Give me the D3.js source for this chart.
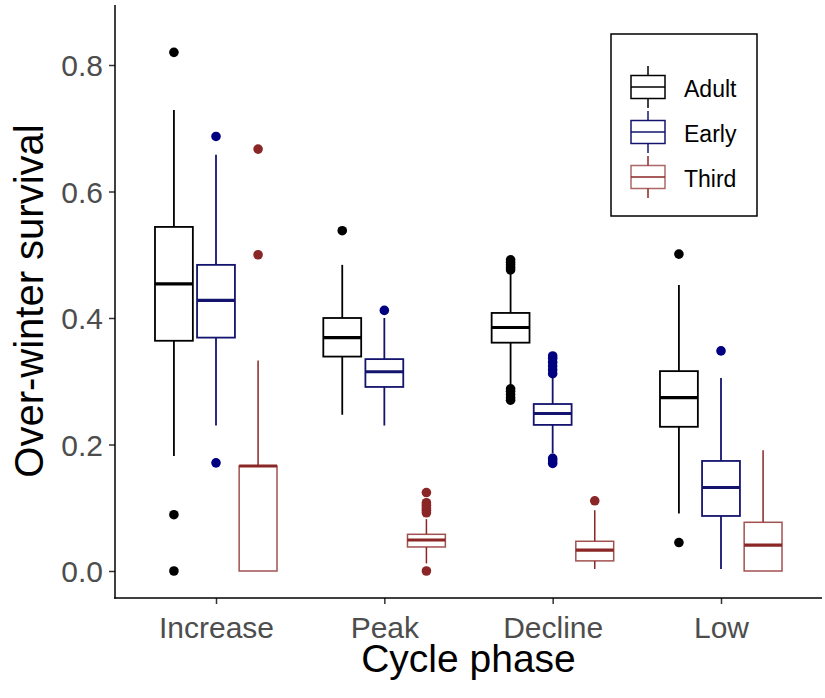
<!DOCTYPE html>
<html>
<head>
<meta charset="utf-8">
<script src="https://cdn.jsdelivr.net/npm/d3@7"></script>
<style>
  body { margin: 0; background: #fff; }
  svg { display: block; font-family: "Liberation Sans", Arial, sans-serif; }
</style>
</head>
<body>
<div id="chart"></div>
<script>
// categories
var phases = ["Increase", "Peak", "Decline", "Low"];
var stages = ["Adult", "Early", "Third"];
var stageColors = ["#000000", "#14146e", "#8B2626"];
var yTicks = [0.0, 0.2, 0.4, 0.6, 0.8];

// box stats per phase: [lower whisker, q1, median, q3, upper whisker]
var adultStats = [
    [0.182, 0.364, 0.454, 0.544, 0.729],
    [0.247, 0.339, 0.369, 0.400, 0.484],
    [0.290, 0.361, 0.385, 0.408, 0.470],
    [0.091, 0.228, 0.274, 0.316, 0.452]
];
var earlyStats = [
    [0.230, 0.369, 0.428, 0.484, 0.658],
    [0.230, 0.291, 0.315, 0.335, 0.400],
    [0.186, 0.231, 0.249, 0.264, 0.307],
    [0.003, 0.087, 0.132, 0.174, 0.305]
];
var thirdStats = [
    [0.000, 0.000, 0.166, 0.166, 0.333],
    [0.012, 0.038, 0.049, 0.058, 0.082],
    [0.003, 0.016, 0.033, 0.047, 0.096],
    [0.000, 0.000, 0.041, 0.077, 0.191]
];

// outliers per phase
var adultOutliers = [
    [0.820, 0.089, 0.000],
    [0.538],
    [0.476, 0.480, 0.484, 0.488, 0.492, 0.270, 0.274, 0.279, 0.284, 0.288],
    [0.501, 0.045]
];
var earlyOutliers = [
    [0.687, 0.171],
    [0.412],
    [0.312, 0.318, 0.324, 0.330, 0.336, 0.340, 0.170, 0.174, 0.178],
    [0.348]
];
var thirdOutliers = [
    [0.667, 0.500],
    [0.124, 0.108, 0.104, 0.100, 0.096, 0.092, 0.000],
    [0.111],
    []
];

var allStats = [adultStats, earlyStats, thirdStats];
var allOutliers = [adultOutliers, earlyOutliers, thirdOutliers];

var width = 825, height = 698;
var mLeft = 115, mRight = 822, mTop = 5, mBottom = 598;

var svg = d3.select("#chart").append("svg")
        .attr("width", width)
        .attr("height", height);

var x = d3.scalePoint().domain(phases).range([mLeft, mRight]).padding(0.6);
var y = d3.scaleLinear().domain([0, 0.8]).range([571, 65]);
var step = x.step();
var dodge = 0.25 * step;
var boxW = 0.225 * step;

// boxes
stages.forEach(function (stage, s) {
    var col = stageColors[s];
    var g = svg.append("g").attr("class", "stage-" + stage);
    phases.forEach(function (phase, p) {
        var st = allStats[s][p];
        var cx = x(phase) + (s - 1) * dodge;
        var lw = s === 2 ? 1.5 : 1.8;
        g.append("line")
                .attr("x1", cx).attr("x2", cx)
                .attr("y1", y(st[3])).attr("y2", y(st[4]))
                .attr("stroke", col).attr("stroke-width", lw);
        g.append("line")
                .attr("x1", cx).attr("x2", cx)
                .attr("y1", y(st[0])).attr("y2", y(st[1]))
                .attr("stroke", col).attr("stroke-width", lw);
        g.append("rect")
                .attr("x", cx - boxW / 2)
                .attr("y", y(st[3]))
                .attr("width", boxW)
                .attr("height", Math.max(0, y(st[1]) - y(st[3])))
                .attr("fill", "#fff")
                .attr("stroke", col)
                .attr("stroke-opacity", s === 2 ? 0.8 : 1)
                .attr("stroke-width", lw);
        g.append("line")
                .attr("x1", cx - boxW / 2).attr("x2", cx + boxW / 2)
                .attr("y1", y(st[2])).attr("y2", y(st[2]))
                .attr("stroke", col).attr("stroke-width", 3.2);
        g.selectAll("circle.o" + p)
                .data(allOutliers[s][p])
                .enter().append("circle")
                .attr("cx", cx)
                .attr("cy", function (d) { return y(d); })
                .attr("r", 4.8)
                .attr("fill", s === 1 ? "#000080" : col);
    });
});

// axes
var yAxis = svg.append("g")
        .attr("transform", "translate(" + mLeft + ",0)")
        .call(d3.axisLeft(y).tickValues(yTicks).tickFormat(d3.format(".1f")).tickSize(6).tickPadding(6));
yAxis.select(".domain").remove();
yAxis.selectAll("line").attr("stroke", "#333").attr("stroke-width", 1.5);
yAxis.selectAll("text").attr("fill", "#4D4D4D").style("font-size", "30px").attr("dy", "0.36em");

var xAxis = svg.append("g")
        .attr("transform", "translate(0," + mBottom + ")")
        .call(d3.axisBottom(x).tickSize(6));
xAxis.select(".domain").remove();
xAxis.selectAll("line").attr("stroke", "#333").attr("stroke-width", 1.5);
xAxis.selectAll("text").attr("fill", "#4D4D4D").style("font-size", "30px")
        .attr("y", 40).attr("dy", 0);

svg.append("line")
        .attr("x1", mLeft).attr("x2", mLeft).attr("y1", mTop).attr("y2", mBottom + 0.75)
        .attr("stroke", "#000").attr("stroke-width", 1.5);
svg.append("line")
        .attr("x1", mLeft - 0.75).attr("x2", mRight).attr("y1", mBottom).attr("y2", mBottom)
        .attr("stroke", "#000").attr("stroke-width", 1.5);

// axis titles
svg.append("text")
        .attr("x", (mLeft + mRight) / 2)
        .attr("y", 672)
        .attr("text-anchor", "middle")
        .style("font-size", "39px")
        .text("Cycle phase");
svg.append("text")
        .attr("transform", "translate(43," + 301 + ") rotate(-90)")
        .attr("text-anchor", "middle")
        .style("font-size", "40px")
        .text("Over-winter survival");

// legend
var lg = svg.append("g").attr("class", "legend");
lg.append("rect")
        .attr("x", 611).attr("y", 34).attr("width", 146).attr("height", 182)
        .attr("fill", "#fff").attr("stroke", "#000").attr("stroke-width", 1.5);
stages.forEach(function (stage, s) {
    var cy = 87 + s * 45;
    var col = stageColors[s];
    var kx = 648;
    lg.append("line").attr("x1", kx).attr("x2", kx).attr("y1", cy - 21).attr("y2", cy + 21)
            .attr("stroke", col).attr("stroke-width", 1.5);
    lg.append("rect").attr("x", kx - 17).attr("y", cy - 11.5).attr("width", 34).attr("height", 23)
            .attr("fill", "#fff").attr("stroke", col).attr("stroke-width", 1.5)
            .attr("stroke-opacity", s === 2 ? 0.7 : 1);
    lg.append("line").attr("x1", kx - 17).attr("x2", kx + 17).attr("y1", cy).attr("y2", cy)
            .attr("stroke", col).attr("stroke-width", 1.5);
    lg.append("text").attr("x", 684).attr("y", cy + 2)
            .attr("dominant-baseline", "central")
            .style("font-size", "23px")
            .text(stage);
});
</script>
</body>
</html>
